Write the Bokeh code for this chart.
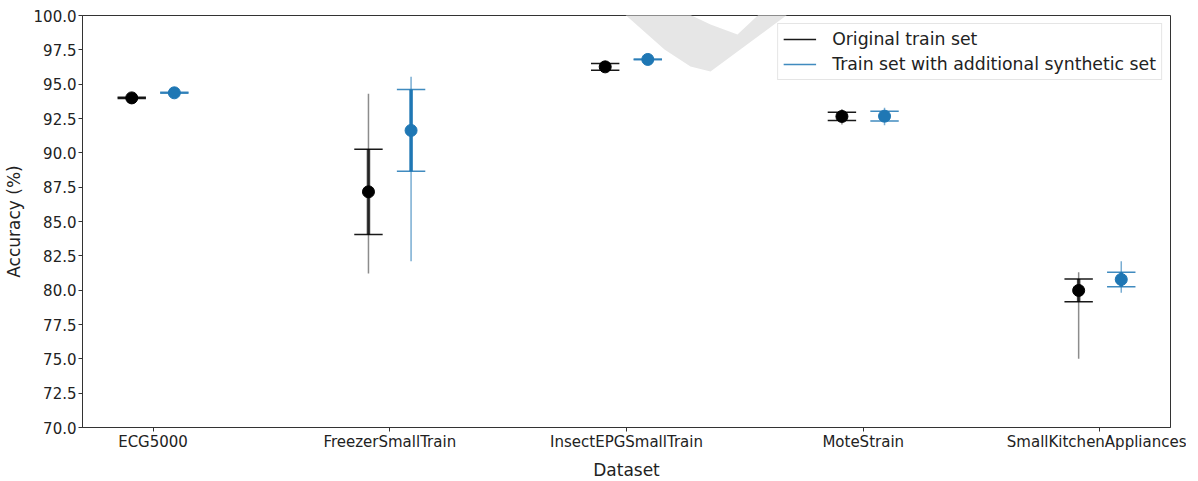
from bokeh.plotting import figure
from bokeh.models import (ColumnDataSource, FixedTicker, PrintfTickFormatter, Range1d,
                          Legend, LegendItem, PolyAnnotation)
from bokeh.embed import file_html
from bokeh.resources import INLINE

# ---- data ----
datasets = ["ECG5000", "FreezerSmallTrain", "InsectEPGSmallTrain", "MoteStrain", "SmallKitchenAppliances"]
orig_mean = [94.00, 87.16, 96.26, 92.65, 79.98]
orig_std = [0.05, 3.11, 0.24, 0.30, 0.83]
orig_min = [93.95, 81.21, 96.10, 92.06, 75.00]
orig_max = [94.05, 94.30, 96.40, 93.20, 81.31]
syn_mean = [94.37, 91.63, 96.80, 92.67, 80.78]
syn_std = [0.04, 2.98, 0.03, 0.36, 0.53]
syn_min = [94.32, 82.11, 96.75, 92.01, 79.81]
syn_max = [94.42, 95.54, 96.85, 93.28, 82.11]
y_ticks = [70 + 2.5 * i for i in range(13)]
labels = ["Original train set", "Train set with additional synthetic set"]

FONT = "DejaVu Sans"
OFFSET = 0.09
CAP = 0.06

p = figure(width=1182, height=480, frame_width=1088, frame_height=412,
           min_border_left=74, min_border_right=16, min_border_top=15, min_border_bottom=53,
           output_backend="svg", toolbar_location=None,
           x_range=Range1d(-0.298, 4.298), y_range=Range1d(70, 100))
p.xgrid.visible = False
p.ygrid.visible = False
p.outline_line_color = "#333333"
p.outline_line_width = 1

# watermark-like swoosh seen in the reference (decoration, frame screen coords, y up)
wm = PolyAnnotation(xs=[512, 550, 628, 655, 705, 720, 720, 628, 608, 582],
                    ys=[440, 440, 403, 393, 440, 440, 424, 356, 361, 378],
                    xs_units="screen", ys_units="screen",
                    fill_color="#e6e6e6", fill_alpha=1.0, line_alpha=0, level="underlay")
p.add_layout(wm)

def series(mean, std, mn, mx, off, color, thin_alpha, thick_alpha, cap_alpha):
    xs = [i + off for i in range(len(mean))]
    src = ColumnDataSource(dict(
        x=xs, mean=mean, lo=[m - s for m, s in zip(mean, std)], hi=[m + s for m, s in zip(mean, std)],
        mn=mn, mx=mx, xl=[x - CAP for x in xs], xr=[x + CAP for x in xs]))
    p.segment(x0="x", y0="mn", x1="x", y1="mx", source=src, line_color=color,
              line_width=1.5, line_alpha=thin_alpha)
    p.segment(x0="x", y0="lo", x1="x", y1="hi", source=src, line_color=color,
              line_width=3.5, line_alpha=thick_alpha)
    c1 = p.segment(x0="xl", y0="hi", x1="xr", y1="hi", source=src, line_color=color,
                   line_width=1.5, line_alpha=cap_alpha)
    p.segment(x0="xl", y0="lo", x1="xr", y1="lo", source=src, line_color=color,
              line_width=1.5, line_alpha=cap_alpha)
    p.scatter(x="x", y="mean", source=src, size=12, fill_color=color, line_color=color)
    return c1

r1 = series(orig_mean, orig_std, orig_min, orig_max, -OFFSET, "black", 0.45, 0.75, 0.9)
r2 = series(syn_mean, syn_std, syn_min, syn_max, OFFSET, "#1f77b4", 0.6, 1.0, 0.85)

# axes
p.xaxis.ticker = FixedTicker(ticks=list(range(len(datasets))))
p.xaxis.major_label_overrides = {i: d for i, d in enumerate(datasets)}
p.yaxis.ticker = FixedTicker(ticks=y_ticks)
p.yaxis.formatter = PrintfTickFormatter(format="%.1f")
p.xaxis.axis_label = "Dataset"
p.yaxis.axis_label = "Accuracy (%)"
for ax in (p.xaxis[0], p.yaxis[0]):
    ax.axis_line_color = "#333333"
    ax.major_tick_line_color = "#333333"
    ax.major_tick_in = 0
    ax.major_tick_out = 4
    ax.minor_tick_line_color = None
    ax.major_label_text_font = FONT
    ax.major_label_text_font_size = "15px"
    ax.major_label_text_color = "#222222"
    ax.axis_label_text_font = FONT
    ax.axis_label_text_font_size = "17px"
    ax.axis_label_text_font_style = "normal"
    ax.axis_label_text_color = "#222222"
p.yaxis.major_label_standoff = 2
p.xaxis.major_label_standoff = 1
p.yaxis.axis_label_standoff = 7
p.xaxis.axis_label_standoff = 6

legend = Legend(items=[LegendItem(label=labels[0], renderers=[r1]),
                       LegendItem(label=labels[1], renderers=[r2])],
                location="top_right")
legend.label_text_font = FONT
legend.label_text_font_size = "17.3px"
legend.label_text_color = "#222222"
legend.glyph_width = 33
legend.glyph_height = 20
legend.label_height = 20
legend.label_standoff = 16
legend.spacing = 5
legend.padding = 5
legend.margin = 8
legend.border_line_color = "#cccccc"
legend.border_line_width = 1
legend.background_fill_alpha = 0.85
p.add_layout(legend)

open("out.html", "w").write(file_html(p, INLINE))
